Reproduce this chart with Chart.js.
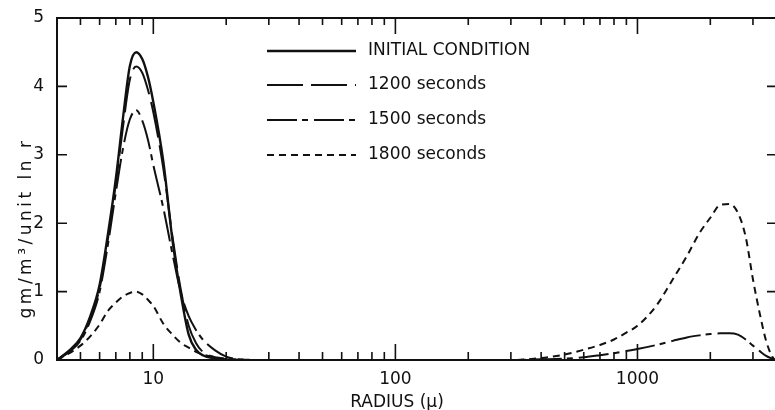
<!DOCTYPE html>
<html>
<head>
<meta charset="utf-8">
<script src="https://cdn.jsdelivr.net/npm/chart.js@4.4.1/dist/chart.umd.min.js"></script>
<style>
  html, body { margin: 0; padding: 0; background: #fff; }
  #wrap { width: 775px; height: 410px; }
</style>
</head>
<body>
<div id="wrap"><canvas id="chart"></canvas></div>
<script>
// radius (microns) sample points for the small-drop and large-drop peaks
const smallRadius = [4, 4.5, 5, 5.5, 6, 6.5, 7, 7.5, 8, 8.5, 9, 9.5, 10, 11, 12, 13, 14, 15, 16, 18, 20, 25];
const largeRadius = [300, 400, 500, 600, 700, 800, 900, 1000, 1200, 1400, 1600, 1800, 2000, 2200, 2400, 2600, 2800, 3000, 3200, 3400, 3600, 3700];

const initialSmall = [0, 0.14, 0.32, 0.65, 1.1, 1.85, 2.65, 3.55, 4.3, 4.5, 4.4, 4.14, 3.77, 2.9, 1.75, 0.95, 0.37, 0.15, 0.07, 0.02, 0, 0];
const s1200Small = [0, 0.13, 0.3, 0.62, 1.05, 1.78, 2.58, 3.42, 4.1, 4.29, 4.2, 3.95, 3.62, 2.8, 1.8, 1.02, 0.5, 0.25, 0.12, 0.04, 0.01, 0];
const s1500Small = [0, 0.12, 0.28, 0.58, 1.0, 1.7, 2.45, 3.1, 3.52, 3.65, 3.5, 3.22, 2.85, 2.22, 1.55, 0.98, 0.64, 0.44, 0.3, 0.14, 0.05, 0];
const s1800Small = [0, 0.1, 0.21, 0.35, 0.52, 0.72, 0.84, 0.93, 0.98, 1.0, 0.96, 0.88, 0.79, 0.53, 0.37, 0.25, 0.18, 0.12, 0.08, 0.04, 0.02, 0];
const s1500Large = [0, 0.01, 0.02, 0.04, 0.07, 0.1, 0.13, 0.16, 0.22, 0.28, 0.33, 0.36, 0.38, 0.39, 0.39, 0.37, 0.3, 0.21, 0.13, 0.06, 0.02, 0];
const s1800Large = [0, 0.03, 0.08, 0.15, 0.22, 0.3, 0.4, 0.5, 0.8, 1.18, 1.52, 1.85, 2.08, 2.27, 2.28, 2.15, 1.8, 1.18, 0.68, 0.28, 0.05, 0];

const seriesLabels = ["INITIAL CONDITION", "1200 seconds", "1500 seconds", "1800 seconds"];
const xMajorTicks = [10, 100, 1000];
const xMinorTicks = [5, 6, 7, 8, 9, 20, 30, 40, 50, 60, 70, 80, 90, 200, 300, 400, 500, 600, 700, 800, 900, 2000, 3000];
const yTicks = [0, 1, 2, 3, 4, 5];

const ink = "#111";
const font = "DejaVu Sans";

function toPoints(xs, ys) {
  return xs.map((x, i) => ({ x: x, y: ys[i] }));
}

const lineStyle = (dash, width) => ({
  borderColor: ink,
  borderWidth: width,
  borderDash: dash,
  pointRadius: 0,
  fill: false,
  cubicInterpolationMode: "monotone",
});

// frame, inward ticks, legend and axis titles
const decorations = {
  id: "decorations",
  afterDatasetsDraw(chart) {
    const { ctx, chartArea: a, scales } = chart;
    const x = scales.x, y = scales.y;
    ctx.save();
    ctx.strokeStyle = ink;
    ctx.lineWidth = 2;
    ctx.setLineDash([]);
    ctx.beginPath();
    ctx.moveTo(a.left, a.top);
    ctx.lineTo(a.right, a.top);
    ctx.moveTo(a.left, a.top - 1);
    ctx.lineTo(a.left, a.bottom);
    ctx.lineTo(a.right, a.bottom);
    ctx.stroke();

    ctx.lineWidth = 1.6;
    ctx.beginPath();
    xMajorTicks.forEach((v) => {
      const px = x.getPixelForValue(v);
      ctx.moveTo(px, a.bottom); ctx.lineTo(px, a.bottom - 16);
      ctx.moveTo(px, a.top); ctx.lineTo(px, a.top + 16);
    });
    xMinorTicks.forEach((v) => {
      const px = x.getPixelForValue(v);
      ctx.moveTo(px, a.bottom); ctx.lineTo(px, a.bottom - 8);
      ctx.moveTo(px, a.top); ctx.lineTo(px, a.top + 7);
    });
    yTicks.forEach((v) => {
      const py = y.getPixelForValue(v);
      ctx.moveTo(a.left, py); ctx.lineTo(a.left + 10, py);
      ctx.moveTo(a.right, py); ctx.lineTo(a.right - 8, py);
    });
    ctx.stroke();

    // legend
    const rows = [51, 85, 120, 155];
    chart.data.datasets.forEach((ds, i) => {
      ctx.lineWidth = ds.borderWidth;
      ctx.setLineDash(ds.borderDash || []);
      ctx.beginPath();
      ctx.moveTo(267, rows[i]);
      ctx.lineTo(356, rows[i]);
      ctx.stroke();
    });
    ctx.setLineDash([]);
    ctx.fillStyle = ink;
    ctx.font = "17px '" + font + "'";
    ctx.textBaseline = "middle";
    ctx.textAlign = "left";
    seriesLabels.forEach((t, i) => ctx.fillText(t, 368, rows[i]));

    // axis titles
    ctx.textAlign = "center";
    ctx.fillText("RADIUS (\u03bc)", 397, 403);
    ctx.translate(27, 228);
    ctx.rotate(-Math.PI / 2);
    ctx.font = "17px '" + font + "'";
    ctx.letterSpacing = "3.5px";
    ctx.fillText("gm/m\u00b3/unit ln r", 0, 0);
    ctx.restore();
  },
};

new Chart(document.getElementById("chart"), {
  type: "line",
  data: {
    datasets: [
      { label: seriesLabels[0], data: toPoints(smallRadius, initialSmall), ...lineStyle([], 2.4) },
      { label: seriesLabels[1], data: toPoints(smallRadius, s1200Small), ...lineStyle([36, 8], 2) },
      {
        label: seriesLabels[2],
        data: toPoints(smallRadius.concat(largeRadius), s1500Small.concat(s1500Large)),
        ...lineStyle([30, 5, 6, 6], 2),
      },
      {
        label: seriesLabels[3],
        data: toPoints(smallRadius.concat(largeRadius), s1800Small.concat(s1800Large)),
        ...lineStyle([7, 5], 2),
      },
    ],
  },
  options: {
    responsive: true,
    maintainAspectRatio: false,
    animation: false,
    layout: { padding: { top: 18, right: 0, left: 0, bottom: 0 } },
    plugins: { legend: { display: false }, tooltip: { enabled: false } },
    scales: {
      x: {
        type: "logarithmic",
        min: 4,
        max: 3700,
        grid: { display: false },
        border: { display: false },
        afterBuildTicks: (scale) => {
          scale.ticks = xMajorTicks.map((v) => ({ value: v }));
        },
        afterFit: (scale) => { scale.height = 50; },
        ticks: {
          color: ink,
          font: { family: font, size: 17 },
          padding: 1,
          maxRotation: 0,
          autoSkip: false,
          callback: (v) => String(v),
        },
      },
      y: {
        min: 0,
        max: 5,
        grid: { display: false },
        border: { display: false },
        afterFit: (scale) => { scale.width = 57; },
        ticks: {
          stepSize: 1,
          color: ink,
          font: { family: font, size: 17 },
          padding: 5,
        },
      },
    },
  },
  plugins: [decorations],
});
</script>
</body>
</html>
